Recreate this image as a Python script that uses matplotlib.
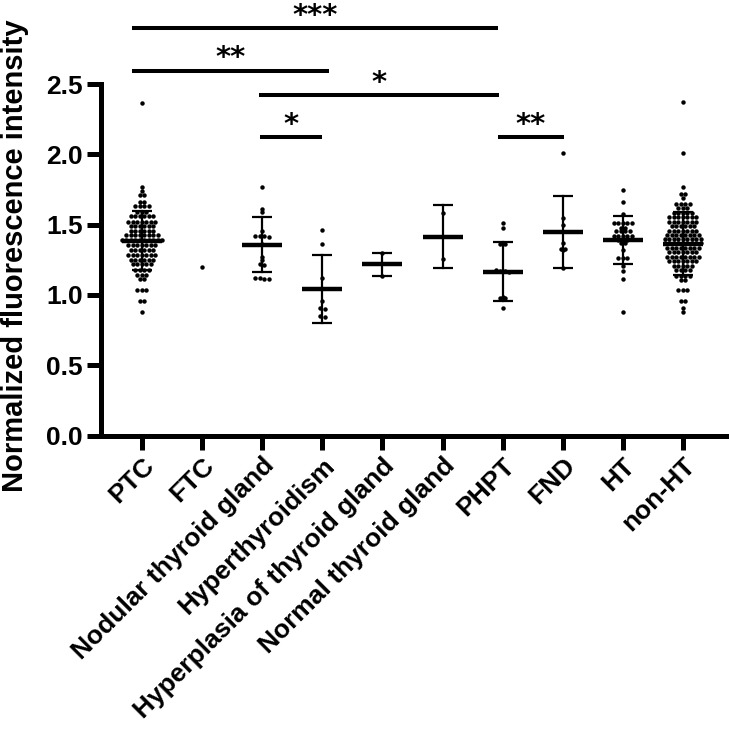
import numpy as np
import matplotlib
matplotlib.use("Agg")
import matplotlib.pyplot as plt

plt.rcParams['font.family'] = ['Liberation Sans', 'DejaVu Sans']
plt.rcParams['font.weight'] = 'bold'

groups = ['PTC', 'FTC', 'Nodular thyroid gland', 'Hyperthyroidism',
          'Hyperplasia of thyroid gland', 'Normal thyroid gland',
          'PHPT', 'FND', 'HT', 'non-HT']

# dense groups read as rows: level -> number of dots in that row
ptc_levels = [0.878, 0.954, 1.032, 1.115, 1.143, 1.179, 1.222, 1.250, 1.286, 1.321,
              1.357, 1.392, 1.428, 1.458, 1.487, 1.522, 1.558, 1.593, 1.629, 1.664,
              1.712, 1.742, 1.766, 2.363]
ptc_counts = [1, 2, 3, 2, 3, 4, 5, 6, 7, 6, 7, 10, 8, 6, 6, 7, 6, 3, 4, 2, 2, 1, 1, 1]

ht_levels = [0.878, 1.115, 1.167, 1.202, 1.262, 1.321, 1.368, 1.387, 1.416, 1.451,
             1.475, 1.511, 1.577, 1.664, 1.747]
ht_counts = [1, 1, 1, 1, 3, 1, 2, 3, 5, 4, 2, 5, 1, 1, 1]

nonht_levels = [0.876, 0.907, 0.954, 1.032, 1.108, 1.136, 1.174, 1.207, 1.238, 1.269,
                1.302, 1.333, 1.368, 1.397, 1.425, 1.458, 1.491, 1.522, 1.553, 1.581,
                1.617, 1.645, 1.690, 1.717, 1.764, 2.010, 2.370]
nonht_counts = [1, 1, 2, 3, 2, 4, 4, 5, 7, 8, 7, 8, 9, 9, 8, 7, 6, 7, 7, 5,
                3, 4, 1, 2, 1, 1, 1]

ftc = [1.20]
nodular = [1.766, 1.61, 1.59, 1.455, 1.42, 1.42, 1.42, 1.41, 1.36, 1.27, 1.25,
           1.22, 1.21, 1.12, 1.12, 1.11, 1.11]
hyperthyroidism = [1.46, 1.36, 1.12, 0.96, 0.91, 0.90, 0.85, 0.84]
hyperplasia = [1.30, 1.135]
normal = [1.58, 1.255]
phpt = [1.51, 1.475, 1.36, 1.36, 1.18, 1.17, 1.17, 1.165, 0.985, 0.98, 0.975, 0.91]
fnd = [2.01, 1.545, 1.495, 1.37, 1.33, 1.33, 1.32, 1.19]

# mean and SD as drawn (FTC has only one value, no bar)
means = [1.385, None, 1.357, 1.044, 1.217, 1.415, 1.165, 1.447, 1.390, 1.364]
sds = [0.210, None, 0.194, 0.243, 0.082, 0.227, 0.210, 0.254, 0.172, 0.225]

# significance bars
sig_x0 = [-0.17, -0.17, 1.95, 1.96, 5.92]
sig_x1 = [5.92, 3.11, 5.94, 3.00, 7.02]
sig_y = [2.896, 2.595, 2.424, 2.125, 2.125]
sig_txt = ['***', '**', '*', '*', '**']

values = [np.repeat(ptc_levels, ptc_counts), ftc, nodular, hyperthyroidism,
          hyperplasia, normal, phpt, fnd, np.repeat(ht_levels, ht_counts),
          np.repeat(nonht_levels, nonht_counts)]

W, H = 729, 732
fig = plt.figure(figsize=(W / 100, H / 100), dpi=100)
ax = fig.add_axes([101 / W, (H - 435.5) / H, 626 / W, 351.5 / H])
ax.set_xlim(-0.682, 9.732)
ax.set_ylim(0, 2.5)

p0 = ax.transData.transform((0, 0))
p1 = ax.transData.transform((1, 1))
sx, sy = p1 - p0


def rows(vals, binpx=4.0, gap=4.5):
    # Prism-like: dots in the same y bin sit side by side, centred
    vals = np.asarray(vals, dtype=float)
    offs = np.zeros(len(vals))
    bins = np.round(vals * sy / binpx).astype(int)
    for b in np.unique(bins):
        idx = np.where(bins == b)[0]
        n = len(idx)
        for k, j in enumerate(idx):
            offs[j] = (k - (n - 1) / 2) * gap / sx
    return offs


for i, v in enumerate(values):
    v = np.asarray(v, dtype=float)
    xs = i + rows(v)
    ax.plot(xs, v, 'o', color='black', markersize=3.2, markeredgewidth=0, zorder=3)
    if means[i] is not None:
        m, s = means[i], sds[i]
        ax.plot([i - 0.333, i + 0.333], [m, m], color='black', lw=3.2,
                solid_capstyle='butt', zorder=4)
        ax.plot([i, i], [m - s, m + s], color='black', lw=1.6, zorder=4)
        for e in (m - s, m + s):
            ax.plot([i - 0.167, i + 0.167], [e, e], color='black', lw=1.6,
                    solid_capstyle='butt', zorder=4)

for x0, x1, y, t in zip(sig_x0, sig_x1, sig_y, sig_txt):
    ax.plot([x0, x1], [y, y], color='black', lw=2.9, clip_on=False,
            solid_capstyle='butt')
    ax.annotate(t, ((x0 + x1) / 2, y), xytext=(0, 3), textcoords='offset points',
                ha='center', va='baseline', fontsize=21, fontweight='bold',
                family='DejaVu Sans', annotation_clip=False)

for side in ['top', 'right']:
    ax.spines[side].set_visible(False)
for side in ['left', 'bottom']:
    ax.spines[side].set_linewidth(3.6)
    ax.spines[side].set_capstyle('projecting')

ax.set_yticks([0, 0.5, 1.0, 1.5, 2.0, 2.5])
ax.set_yticklabels(['0.0', '0.5', '1.0', '1.5', '2.0', '2.5'])
ax.set_xticks(range(len(groups)))
ax.set_xticklabels(groups, rotation=45, ha='right', rotation_mode='anchor')
ax.tick_params(axis='both', width=3.6, length=10, labelsize=19, pad=3)
for lab in ax.get_xticklabels() + ax.get_yticklabels():
    lab.set_fontweight('bold')

fig.text(23 / W, (H - 256) / H, 'Normalized fluorescence intensity', rotation=90,
         rotation_mode='anchor', ha='center', va='baseline', fontsize=21,
         fontweight='bold')

fig.savefig('out.png', dpi=100)
